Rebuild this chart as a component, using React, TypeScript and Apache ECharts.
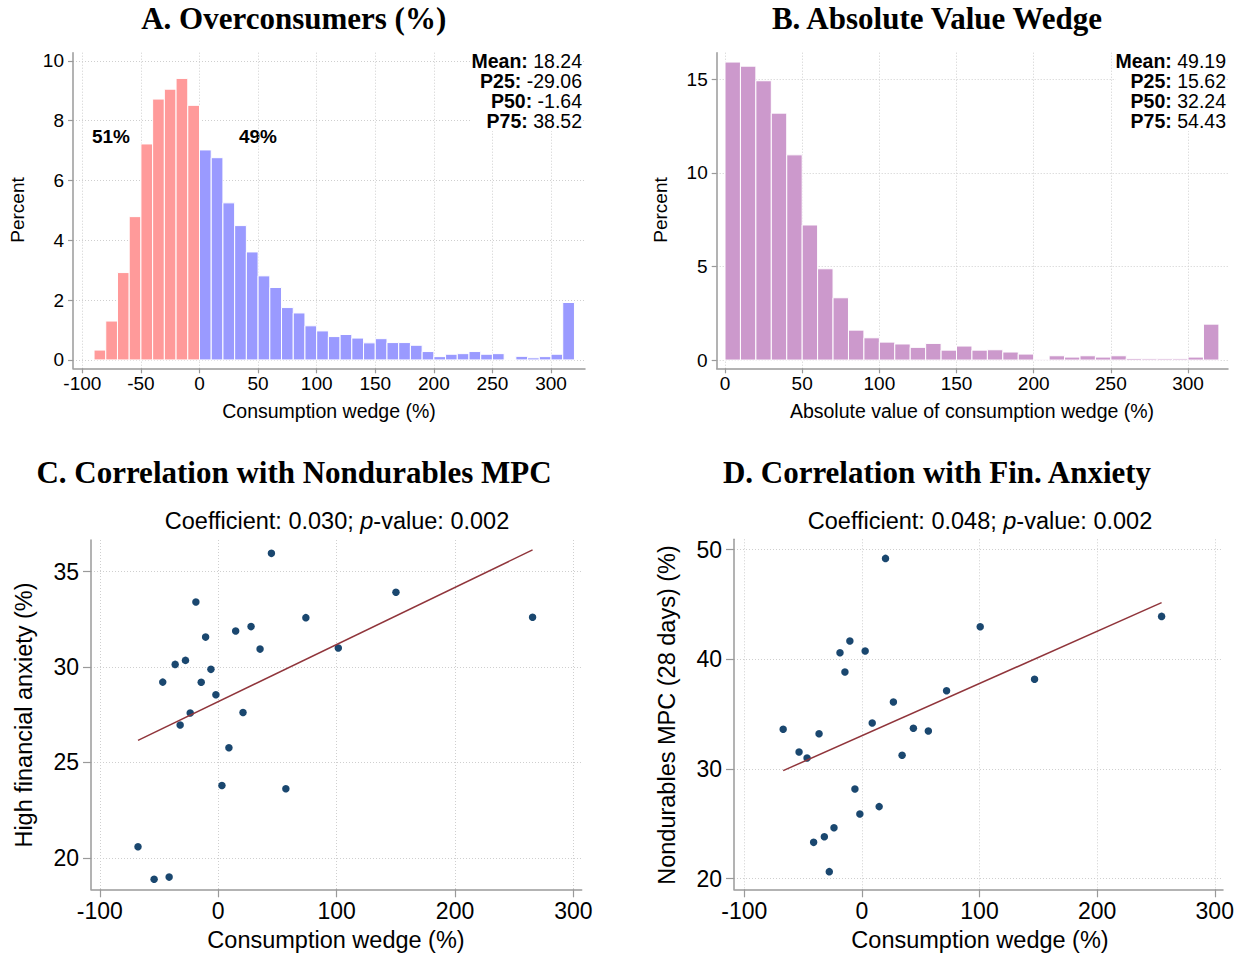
import React, { useEffect, useRef } from 'react';
import * as echarts from 'echarts';

// ---------- data ----------
const BIN = 10;
// Panel A: consumption wedge histogram (percent of respondents)
const underStarts = [-90, -80, -70, -60, -50, -40, -30, -20, -10];
const underPct = [0.33, 1.30, 2.92, 4.79, 7.22, 8.72, 9.05, 9.41, 8.51];
const overStarts = [0, 10, 20, 30, 40, 50, 60, 70, 80, 90, 100, 110, 120, 130, 140, 150,
  160, 170, 180, 190, 200, 210, 220, 230, 240, 250, 260, 270, 280, 290, 300, 310];
const overPct = [7.02, 6.76, 5.25, 4.49, 3.61, 2.81, 2.42, 1.75, 1.57, 1.14, 0.97, 0.78, 0.85, 0.73, 0.57, 0.71,
  0.58, 0.58, 0.49, 0.28, 0.11, 0.19, 0.21, 0.28, 0.19, 0.21, 0, 0.12, 0.07, 0.11, 0.19, 1.92];
// Panel B: absolute value of wedge
const absStarts = [0, 10, 20, 30, 40, 50, 60, 70, 80, 90, 100, 110, 120, 130, 140, 150,
  160, 170, 180, 190, 200, 210, 220, 230, 240, 250, 260, 270, 280, 290, 300, 310];
const absPct = [15.93, 15.71, 14.93, 13.20, 10.97, 7.22, 4.88, 3.33, 1.60, 1.19, 0.96, 0.86, 0.68, 0.89, 0.53, 0.75,
  0.53, 0.55, 0.43, 0.32, 0.04, 0.23, 0.16, 0.23, 0.16, 0.23, 0.09, 0.07, 0.07, 0.07, 0.16, 1.92];

const statsA = [['Mean:', '18.24'], ['P25:', '-29.06'], ['P50:', '-1.64'], ['P75:', '38.52']];
const statsB = [['Mean:', '49.19'], ['P25:', '15.62'], ['P50:', '32.24'], ['P75:', '54.43']];

// Panel C: binned scatter, wedge vs high financial anxiety
const scatterC = [
  [44.9, 35.96], [-18.9, 33.41], [74.0, 32.59], [14.7, 31.89], [27.7, 32.12], [-10.7, 31.57],
  [35.3, 30.94], [101.4, 31.0], [-36.4, 30.14], [-27.7, 30.35], [-6.2, 29.88], [-46.9, 29.21],
  [-14.4, 29.20], [-2.0, 28.55], [-23.7, 27.59], [-32.2, 26.96], [20.9, 27.62], [9.0, 25.77],
  [3.1, 23.79], [57.1, 23.62], [-67.8, 20.58], [-54.2, 18.88], [-41.5, 18.99], [150.1, 33.92], [265.5, 32.61],
];
const fitC = [[-67.8, 26.16], [265.5, 36.14]];
// Panel D: binned scatter, wedge vs nondurables MPC
const scatterD = [
  [20.1, 49.21], [-10.2, 41.67], [-18.6, 40.61], [2.8, 40.76], [-14.4, 38.85], [72.0, 37.14],
  [26.8, 36.11], [8.8, 34.19], [43.8, 33.71], [56.5, 33.47], [-66.9, 33.62], [-36.4, 33.22],
  [-53.4, 31.55], [-46.6, 31.0], [34.2, 31.25], [-5.9, 28.18], [-1.7, 25.90], [14.7, 26.57],
  [-23.7, 24.65], [-31.9, 23.83], [-41.0, 23.31], [-27.7, 20.64], [100.6, 42.98], [146.8, 38.18], [254.8, 43.92],
];
const fitD = [[-66.9, 29.85], [254.8, 45.17]];

const ticksAX = [-100, -50, 0, 50, 100, 150, 200, 250, 300];
const ticksAY = [0, 2, 4, 6, 8, 10];
const ticksBX = [0, 50, 100, 150, 200, 250, 300];
const ticksBY = [0, 5, 10, 15];
const ticksCX = [-100, 0, 100, 200, 300];
const ticksCY = [20, 25, 30, 35];
const ticksDX = [-100, 0, 100, 200, 300];
const ticksDY = [20, 30, 40, 50];

// ---------- styling ----------
const SANS = '"Liberation Sans", Arial, Helvetica, sans-serif';
const SERIF = '"Liberation Serif", "Times New Roman", serif';
const AXIS_COLOR = '#9a9a9a';
const GRID_COLOR = '#cfcfcf';

function makeAxis(kind: 'x' | 'y', gridIndex: number, min: number, max: number, ticks: number[],
  fs: number, margin: number, tickLen: number) {
  return {
    type: 'value',
    gridIndex,
    min,
    max,
    axisLine: { show: true, onZero: false, lineStyle: { color: AXIS_COLOR, width: 1.5 } },
    axisTick: { show: true, length: tickLen, customValues: ticks, lineStyle: { color: AXIS_COLOR, width: 1.2 } },
    axisLabel: { customValues: ticks, fontSize: fs, color: '#000', fontFamily: SANS, margin },
    splitLine: { show: true, lineStyle: { type: [1, 2], color: GRID_COLOR, width: 1 } },
  };
}

function histRender(color: string) {
  return (params: any, api: any) => {
    const x0 = api.value(0);
    const x1 = api.value(1);
    const v = api.value(2);
    const p0 = api.coord([x0, v]);
    const p1 = api.coord([x1, 0]);
    return {
      type: 'rect',
      shape: { x: p0[0], y: p0[1], width: p1[0] - p0[0], height: p1[1] - p0[1] },
      style: { fill: color, stroke: '#ffffff', lineWidth: 1 },
    };
  };
}

function binData(starts: number[], vals: number[]) {
  return starts.map((s, i) => [s, s + BIN, vals[i]]);
}

function statsText(rows: string[][]) {
  return rows.map((r) => `{b|${r[0]}} ${r[1]}`).join('\n');
}

export default function App() {
  const ref = useRef<HTMLDivElement>(null);

  useEffect(() => {
    if (!ref.current) return;
    const chart = echarts.init(ref.current, undefined, { renderer: 'svg' });

    const titleStyle = (text: string) => ({
      text, font: `bold 31px ${SERIF}`, fill: '#000', textAlign: 'center', textVerticalAlign: 'middle',
    });

    const statsStyle = (rows: string[][]) => ({
      text: statsText(rows), font: `19.5px ${SANS}`, fill: '#000', textAlign: 'right',
      textVerticalAlign: 'top', lineHeight: 20, backgroundColor: '#ffffff',
      rich: { b: { fontWeight: 'bold', fontSize: 19.5, fontFamily: SANS, lineHeight: 20 } },
    });

    const option: any = {
      animation: false,
      backgroundColor: '#ffffff',
      grid: [
        { left: 73, top: 52.7, width: 512, height: 315.6, outerBoundsMode: 'none' },
        { left: 716.7, top: 52.7, width: 511.3, height: 315.6, outerBoundsMode: 'none' },
        { left: 91, top: 540, width: 490.7, height: 349.3, outerBoundsMode: 'none' },
        { left: 734, top: 539.3, width: 489, height: 350, outerBoundsMode: 'none' },
      ],
      xAxis: [
        makeAxis('x', 0, -107.96, 329.0, ticksAX, 19, 6, 5),
        makeAxis('x', 1, -5.38, 325.9, ticksBX, 19, 6, 5),
        makeAxis('x', 2, -107.5, 307, ticksCX, 23, 10, 8),
        makeAxis('x', 3, -108.7, 307, ticksDX, 23, 10, 8),
      ],
      yAxis: [
        makeAxis('y', 0, -0.28, 10.27, ticksAY, 19, 9, 5),
        makeAxis('y', 1, -0.44, 16.43, ticksBY, 19, 9, 5),
        makeAxis('y', 2, 18.35, 36.66, ticksCY, 23, 12, 8),
        makeAxis('y', 3, 19.03, 50.95, ticksDY, 23, 12, 8),
      ],
      series: [
        {
          type: 'custom', xAxisIndex: 0, yAxisIndex: 0, renderItem: histRender('#ff9a9a'),
          encode: { x: [0, 1], y: 2 }, data: binData(underStarts, underPct), silent: true,
        },
        {
          type: 'custom', xAxisIndex: 0, yAxisIndex: 0, renderItem: histRender('#9a9aff'),
          encode: { x: [0, 1], y: 2 }, data: binData(overStarts, overPct), silent: true,
        },
        {
          type: 'custom', xAxisIndex: 1, yAxisIndex: 1, renderItem: histRender('#cc99cc'),
          encode: { x: [0, 1], y: 2 }, data: binData(absStarts, absPct), silent: true,
        },
        {
          type: 'line', xAxisIndex: 2, yAxisIndex: 2, data: fitC, showSymbol: false, symbol: 'none',
          lineStyle: { color: '#90353b', width: 1.5 }, silent: true,
        },
        {
          type: 'scatter', xAxisIndex: 2, yAxisIndex: 2, data: scatterC, symbolSize: 7.5,
          itemStyle: { color: '#1a476f', opacity: 1 }, silent: true,
        },
        {
          type: 'line', xAxisIndex: 3, yAxisIndex: 3, data: fitD, showSymbol: false, symbol: 'none',
          lineStyle: { color: '#90353b', width: 1.5 }, silent: true,
        },
        {
          type: 'scatter', xAxisIndex: 3, yAxisIndex: 3, data: scatterD, symbolSize: 7.5,
          itemStyle: { color: '#1a476f', opacity: 1 }, silent: true,
        },
      ],
      graphic: [
        { type: 'text', x: 293.7, y: 18, style: titleStyle('A. Overconsumers (%)') },
        { type: 'text', x: 937, y: 18, style: titleStyle('B. Absolute Value Wedge') },
        { type: 'text', x: 294, y: 472, style: titleStyle('C. Correlation with Nondurables MPC') },
        { type: 'text', x: 937, y: 472, style: titleStyle('D. Correlation with Fin. Anxiety') },
        // stats
        { type: 'text', x: 582, y: 51, z: 100, style: statsStyle(statsA) },
        { type: 'text', x: 1226, y: 51, z: 100, style: statsStyle(statsB) },
        { type: 'text', x: 111, y: 136, style: { text: '51%', font: `bold 19px ${SANS}`, fill: '#000', textAlign: 'center', textVerticalAlign: 'middle' } },
        { type: 'text', x: 258, y: 136, style: { text: '49%', font: `bold 19px ${SANS}`, fill: '#000', textAlign: 'center', textVerticalAlign: 'middle' } },
        // axis titles
        { type: 'text', x: 17, y: 210, rotation: Math.PI / 2, style: { text: 'Percent', font: `19px ${SANS}`, fill: '#000', textAlign: 'center', textVerticalAlign: 'middle' } },
        { type: 'text', x: 660, y: 210, rotation: Math.PI / 2, style: { text: 'Percent', font: `19px ${SANS}`, fill: '#000', textAlign: 'center', textVerticalAlign: 'middle' } },
        { type: 'text', x: 329, y: 411, style: { text: 'Consumption wedge (%)', font: `19.5px ${SANS}`, fill: '#000', textAlign: 'center', textVerticalAlign: 'middle' } },
        { type: 'text', x: 972, y: 411, style: { text: 'Absolute value of consumption wedge (%)', font: `19.5px ${SANS}`, fill: '#000', textAlign: 'center', textVerticalAlign: 'middle' } },
        { type: 'text', x: 24, y: 715, rotation: Math.PI / 2, style: { text: 'High financial anxiety (%)', font: `23.5px ${SANS}`, fill: '#000', textAlign: 'center', textVerticalAlign: 'middle' } },
        { type: 'text', x: 667, y: 715, rotation: Math.PI / 2, style: { text: 'Nondurables MPC (28 days) (%)', font: `23.5px ${SANS}`, fill: '#000', textAlign: 'center', textVerticalAlign: 'middle' } },
        { type: 'text', x: 336, y: 940, style: { text: 'Consumption wedge (%)', font: `23.5px ${SANS}`, fill: '#000', textAlign: 'center', textVerticalAlign: 'middle' } },
        { type: 'text', x: 980, y: 940, style: { text: 'Consumption wedge (%)', font: `23.5px ${SANS}`, fill: '#000', textAlign: 'center', textVerticalAlign: 'middle' } },
        // subtitles
        {
          type: 'text', x: 337, y: 521, style: {
            text: 'Coefficient: 0.030; {i|p}-value: 0.002', font: `23.5px ${SANS}`, fill: '#000', textAlign: 'center', textVerticalAlign: 'middle',
            rich: { i: { fontStyle: 'italic', fontSize: 23.5, fontFamily: SANS } },
          },
        },
        {
          type: 'text', x: 980, y: 521, style: {
            text: 'Coefficient: 0.048; {i|p}-value: 0.002', font: `23.5px ${SANS}`, fill: '#000', textAlign: 'center', textVerticalAlign: 'middle',
            rich: { i: { fontStyle: 'italic', fontSize: 23.5, fontFamily: SANS } },
          },
        },
      ],
    };

    chart.setOption(option);
    return () => chart.dispose();
  }, []);

  return (
    <div
      ref={ref}
      style={{ position: 'absolute', left: 0, top: 0, width: 1244, height: 957, background: '#fff' }}
    />
  );
}
